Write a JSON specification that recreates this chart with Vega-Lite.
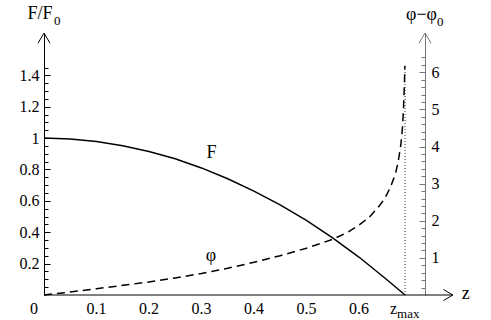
{
  "$schema": "https://vega.github.io/schema/vega-lite/v6.json",
  "width": 381,
  "height": 262,
  "autosize": {"type": "none"},
  "padding": {"left": 44, "top": 33, "right": 66, "bottom": 25},
  "config": {
    "view": {"stroke": null},
    "text": {"font": "Liberation Serif", "color": "black"},
    "axis": {"labelFont": "Liberation Serif", "labelFontSize": 16, "labelColor": "black", "grid": false, "title": null, "labelOverlap": false, "labelFlush": false, "domainWidth": 1, "tickWidth": 1}
  },
  "datasets": {
    "Fcurve": [
      {"z": 0, "F": 1}, {"z": 0.05, "F": 0.995}, {"z": 0.1, "F": 0.979}, {"z": 0.15, "F": 0.952},
      {"z": 0.2, "F": 0.915}, {"z": 0.25, "F": 0.868}, {"z": 0.3, "F": 0.81}, {"z": 0.35, "F": 0.741},
      {"z": 0.4, "F": 0.662}, {"z": 0.45, "F": 0.574}, {"z": 0.5, "F": 0.475}, {"z": 0.55, "F": 0.364},
      {"z": 0.6, "F": 0.242}, {"z": 0.65, "F": 0.107}, {"z": 0.688, "F": 0}
    ],
    "phicurve": [
      {"z": 0, "phi": 0}, {"z": 0.05, "phi": 0.08}, {"z": 0.1, "phi": 0.17}, {"z": 0.15, "phi": 0.26},
      {"z": 0.2, "phi": 0.35}, {"z": 0.25, "phi": 0.46}, {"z": 0.3, "phi": 0.58}, {"z": 0.35, "phi": 0.72},
      {"z": 0.4, "phi": 0.88}, {"z": 0.45, "phi": 1.06}, {"z": 0.5, "phi": 1.26}, {"z": 0.55, "phi": 1.5},
      {"z": 0.58, "phi": 1.7}, {"z": 0.6, "phi": 1.88}, {"z": 0.62, "phi": 2.1}, {"z": 0.64, "phi": 2.42},
      {"z": 0.65, "phi": 2.62}, {"z": 0.66, "phi": 2.9}, {"z": 0.67, "phi": 3.28}, {"z": 0.675, "phi": 3.6},
      {"z": 0.68, "phi": 4.05}, {"z": 0.683, "phi": 4.5}, {"z": 0.685, "phi": 5.0}, {"z": 0.686, "phi": 5.4},
      {"z": 0.687, "phi": 5.8}, {"z": 0.6875, "phi": 6.18}
    ],
    "xlabels": [
      {"z": 0.1, "F": 0, "t": "0.1"}, {"z": 0.2, "F": 0, "t": "0.2"}, {"z": 0.3, "F": 0, "t": "0.3"},
      {"z": 0.4, "F": 0, "t": "0.4"}, {"z": 0.5, "F": 0, "t": "0.5"}, {"z": 0.6, "F": 0, "t": "0.6"}
    ]
  },
  "layer": [
    {
      "encoding": {
        "x": {"field": "z", "type": "quantitative", "scale": {"domain": [0, 0.726], "nice": false, "zero": false},
          "axis": {"orient": "bottom", "domain": false, "tickColor": "black", "labels": false,
            "values": [0.02,0.04,0.06,0.08,0.1,0.12,0.14,0.16,0.18,0.2,0.22,0.24,0.26,0.28,0.3,0.32,0.34,0.36,0.38,0.4,0.42,0.44,0.46,0.48,0.5,0.52,0.54,0.56,0.58,0.6,0.62,0.64,0.66,0.68,0.7,0.72],
            "tickSize": {"condition": {"test": "abs(datum.value*10-round(datum.value*10))<0.001", "value": -6}, "value": -4}}},
        "y": {"field": "F", "type": "quantitative", "scale": {"domain": [0, 1.67], "nice": false, "zero": false},
          "axis": {"orient": "left", "domainColor": "black", "tickColor": "black", "labelOverlap": false, "labelFlush": false,
            "values": [0.05,0.1,0.15,0.2,0.25,0.3,0.35,0.4,0.45,0.5,0.55,0.6,0.65,0.7,0.75,0.8,0.85,0.9,0.95,1,1.05,1.1,1.15,1.2,1.25,1.3,1.35,1.4,1.45],
            "tickSize": {"condition": {"test": "abs(datum.value*5-round(datum.value*5))<0.001", "value": -6}, "value": -4},
            "labelExpr": "abs(datum.value*5-round(datum.value*5))<0.001 ? format(datum.value,'~g') : ''",
            "labelBaseline": "middle", "labelPadding": 11}}
      },
      "layer": [
        {"data": {"name": "Fcurve"}, "mark": {"type": "line", "color": "black", "strokeWidth": 1.5}},
        {"data": {"values": [{"z": 0, "z2": 0.779, "F": 0}]}, "mark": {"type": "rule", "color": "black", "strokeWidth": 1},
          "encoding": {"x2": {"field": "z2"}}},
        {"data": {"values": [{"z": 0, "F": 1.67}]}, "mark": {"type": "point", "shape": "M-1,1.7L0,0L1,1.7", "size": 144, "filled": false, "stroke": "black", "strokeWidth": 1, "opacity": 1}},
        {"data": {"values": [{"z": 0.779, "F": 0}]}, "mark": {"type": "point", "shape": "M-1.7,-1L0,0L-1.7,1", "size": 121, "filled": false, "stroke": "black", "strokeWidth": 1, "opacity": 1}},
        {"data": {"values": [{"z": 0.726, "F": 1.67}]}, "mark": {"type": "point", "shape": "M-1,1.7L0,0L1,1.7", "size": 144, "filled": false, "stroke": "#777777", "strokeWidth": 1, "opacity": 1}},
        {"data": {"name": "xlabels"}, "mark": {"type": "text", "align": "center", "baseline": "alphabetic", "dy": 19, "fontSize": 16}, "encoding": {"text": {"field": "t"}}},
        {"data": {"values": [{"z": 0, "F": 1.67, "t": "F/F"}]}, "mark": {"type": "text", "align": "center", "baseline": "alphabetic", "dx": -4, "dy": -14, "fontSize": 18}, "encoding": {"text": {"field": "t"}}},
        {"data": {"values": [{"z": 0, "F": 1.67, "t": "0"}]}, "mark": {"type": "text", "align": "left", "baseline": "alphabetic", "dx": 10, "dy": -8, "fontSize": 13}, "encoding": {"text": {"field": "t"}}},
        {"data": {"values": [{"z": 0.726, "F": 1.67, "t": "φ−φ"}]}, "mark": {"type": "text", "align": "right", "baseline": "alphabetic", "dx": 12, "dy": -13, "fontSize": 18}, "encoding": {"text": {"field": "t"}}},
        {"data": {"values": [{"z": 0.726, "F": 1.67, "t": "0"}]}, "mark": {"type": "text", "align": "left", "baseline": "alphabetic", "dx": 12, "dy": -7, "fontSize": 13}, "encoding": {"text": {"field": "t"}}},
        {"data": {"values": [{"z": 0.779, "F": 0, "t": "z"}]}, "mark": {"type": "text", "align": "left", "baseline": "alphabetic", "dx": 9, "dy": 4, "fontSize": 18}, "encoding": {"text": {"field": "t"}}},
        {"data": {"values": [{"z": 0, "F": 0, "t": "0"}]}, "mark": {"type": "text", "align": "center", "baseline": "alphabetic", "dx": -10, "dy": 19, "fontSize": 16}, "encoding": {"text": {"field": "t"}}},
        {"data": {"values": [{"z": 0.688, "F": 0, "t": "z"}]}, "mark": {"type": "text", "align": "right", "baseline": "alphabetic", "dx": -8, "dy": 19, "fontSize": 16}, "encoding": {"text": {"field": "t"}}},
        {"data": {"values": [{"z": 0.688, "F": 0, "t": "max"}]}, "mark": {"type": "text", "align": "left", "baseline": "alphabetic", "dx": -8, "dy": 23, "fontSize": 13}, "encoding": {"text": {"field": "t"}}},
        {"data": {"values": [{"z": 0.319, "F": 0.873, "t": "F"}]}, "mark": {"type": "text", "align": "center", "baseline": "alphabetic", "fontSize": 18}, "encoding": {"text": {"field": "t"}}}
      ]
    },
    {
      "encoding": {
        "x": {"field": "z", "type": "quantitative", "scale": {"domain": [0, 0.726], "nice": false, "zero": false}, "axis": null},
        "y": {"field": "phi", "type": "quantitative", "scale": {"domain": [0, 7.06], "nice": false, "zero": false},
          "axis": {"orient": "right", "domainColor": "#777777", "tickColor": "#777777", "labelOverlap": false, "labelFlush": false,
            "values": [0.2,0.4,0.6,0.8,1,1.2,1.4,1.6,1.8,2,2.2,2.4,2.6,2.8,3,3.2,3.4,3.6,3.8,4,4.2,4.4,4.6,4.8,5,5.2,5.4,5.6,5.8,6,6.2,6.4],
            "tickSize": {"condition": {"test": "abs(datum.value-round(datum.value))<0.001", "value": -6}, "value": -4},
            "labelExpr": "abs(datum.value-round(datum.value))<0.001 ? format(datum.value,'~g') : ''",
            "labelBaseline": "middle", "labelPadding": 12}}
      },
      "layer": [
        {"data": {"name": "phicurve"}, "mark": {"type": "line", "color": "black", "strokeWidth": 1.5, "strokeDash": [8, 5]}},
        {"data": {"values": [{"z": 0.688, "phi": 0, "phi2": 6.17}]}, "mark": {"type": "rule", "color": "#333333", "strokeWidth": 1, "strokeDash": [1, 2]},
          "encoding": {"y2": {"field": "phi2"}}},
        {"data": {"values": [{"z": 0.318, "phi": 0.916, "t": "φ"}]}, "mark": {"type": "text", "align": "center", "baseline": "alphabetic", "fontSize": 18}, "encoding": {"text": {"field": "t"}}}
      ]
    }
  ],
  "resolve": {"scale": {"y": "independent"}, "axis": {"y": "independent"}}
}
